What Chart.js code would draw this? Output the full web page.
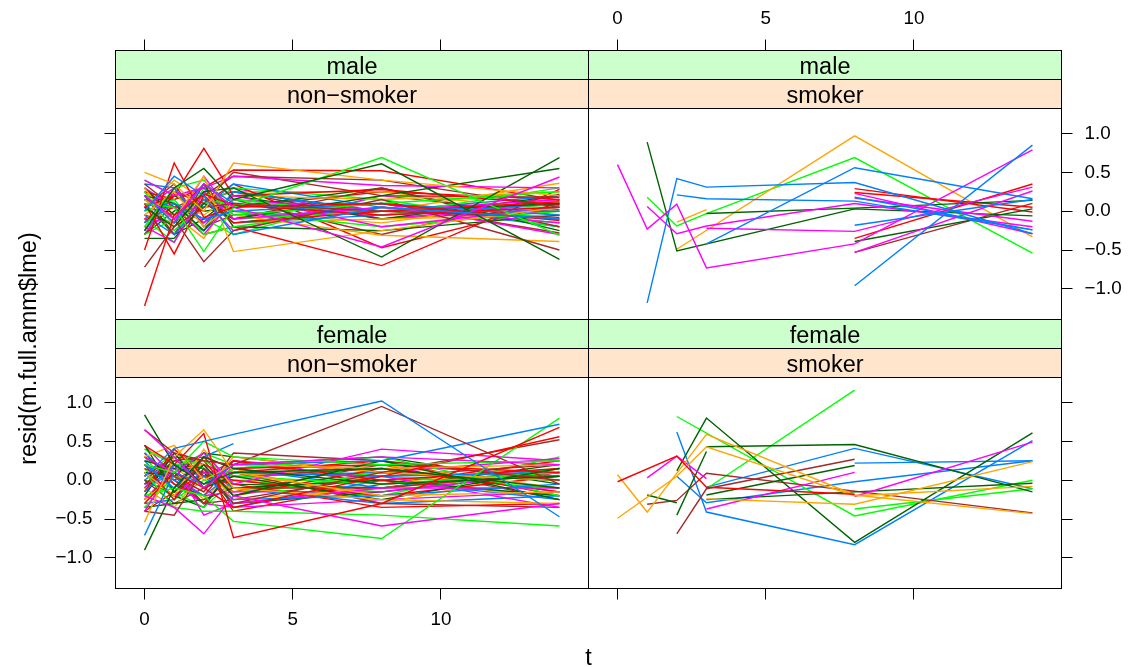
<!DOCTYPE html>
<html>
<head>
<meta charset="utf-8">
<script src="https://cdn.jsdelivr.net/npm/chart.js@4/dist/chart.umd.min.js"></script>
<style>
  html, body { margin: 0; padding: 0; background: #fff; }
  #wrap { width: 1130px; height: 667px; }
</style>
</head>
<body>
<div id="wrap"><canvas id="chart" width="1130" height="667"></canvas></div>
<script>
// measurement times and axis ticks
const times = [0, 1, 2, 3, 8, 14];
const xTicks = [0, 5, 10];
const yTicks = [-1, -0.5, 0, 0.5, 1];
const sexLevels = ['male', 'female'];
const smokeLevels = ['non\u2212smoker', 'smoker'];

// rows: [subject, t0, t1, t2, t3, t8, t14]  (null = not observed)
const maleNonSmoker = [
  [1, 0.00, 0.45, 0.20, -0.30, 0.05, -0.10],
  [2, 0.20, -0.10, 0.35, 0.05, -0.46, 0.44],
  [3, -0.25, 0.30, 0.55, 0.15, 0.61, -0.62],
  [4, -1.22, -0.05, 0.22, 0.08, -0.05, 0.05],
  [5, 0.50, 0.35, 0.00, 0.62, 0.40, 0.20],
  [6, 0.10, 0.05, -0.52, 0.05, 0.69, -0.31],
  [7, -0.72, -0.20, 0.05, 0.10, 0.00, -0.08],
  [8, 0.20, -0.15, 0.35, 0.10, -0.05, 0.05],
  [9, 0.40, 0.20, 0.30, 0.45, 0.33, 0.30],
  [10, 0.05, -0.20, 0.25, 0.30, -0.59, 0.69],
  [11, -0.50, 0.62, -0.08, 0.05, 0.10, -0.12],
  [12, 0.15, -0.10, 0.45, -0.52, -0.25, 0.05],
  [13, -0.20, 0.30, 0.40, -0.05, 0.10, 0.25],
  [14, 0.15, -0.10, -0.65, -0.25, 0.15, -0.50],
  [15, -0.15, 0.10, -0.10, 0.00, 0.10, -0.05],
  [16, -0.20, -0.40, 0.25, -0.10, 0.05, -0.15],
  [17, -0.35, -0.35, 0.10, -0.10, 0.20, 0.55],
  [18, 0.10, -0.55, 0.20, -0.15, 0.00, 0.12],
  [19, -0.05, 0.25, -0.20, 0.10, 0.00, 0.36],
  [20, 0.25, -0.25, 0.10, 0.15, -0.05, 0.30],
  [21, 0.35, 0.05, 0.20, 0.45, 0.40, 0.05],
  [22, 0.35, 0.30, -0.20, 0.25, 0.00, 0.00],
  [23, 0.05, 0.30, -0.15, 0.20, -0.20, 0.05],
  [24, 0.20, 0.10, -0.25, 0.25, 0.00, 0.10],
  [25, 0.05, 0.20, 0.81, 0.20, 0.28, 0.08],
  [26, 0.30, -0.20, 0.20, -0.05, -0.31, -0.39],
  [27, 0.00, 0.15, -0.30, -0.20, 0.05, -0.15],
  [28, -0.15, 0.25, 0.10, 0.50, 0.20, 0.18],
  [29, -0.05, -0.30, 0.15, -0.15, -0.05, 0.10],
  [30, -0.10, -0.15, 0.45, -0.05, 0.10, -0.30],
  [31, 0.30, -0.05, 0.35, -0.20, -0.25, -0.05],
  [32, 0.25, 0.15, 0.30, 0.53, 0.52, 0.14],
  [33, -0.20, 0.10, -0.05, 0.20, 0.15, 0.25],
  [34, -0.30, -0.10, 0.25, 0.00, -0.20, 0.00],
  [35, 0.20, -0.30, 0.35, -0.10, 0.30, -0.20],
  [36, 0.15, 0.05, 0.05, 0.35, 0.05, -0.15],
  [37, 0.30, 0.05, -0.30, 0.15, 0.00, 0.15],
  [38, -0.15, 0.20, 0.00, 0.05, 0.30, -0.25],
  [39, -0.10, 0.05, -0.30, -0.20, -0.70, 0.28],
  [40, 0.05, 0.40, 0.15, -0.15, -0.10, -0.05],
  [41, 0.40, 0.20, 0.05, 0.30, 0.15, -0.20],
  [42, -0.30, 0.10, -0.15, 0.15, -0.30, 0.22],
  [43, -0.25, 0.20, 0.30, -0.05, 0.00, 0.20],
  [44, -0.30, 0.25, 0.15, -0.25, 0.20, -0.05],
  [45, 0.10, -0.30, -0.10, 0.20, -0.10, 0.20],
  [46, 0.30, -0.10, 0.10, 0.35, -0.47, 0.10],
  [47, 0.25, -0.05, -0.35, 0.25, 0.25, 0.00],
  [48, -0.10, -0.40, 0.30, -0.10, 0.00, 0.08],
  [49, 0.05, 0.35, -0.20, -0.05, 0.10, -0.28],
  [50, 0.05, -0.05, -0.25, 0.10, 0.10, -0.20],
  [51, 0.10, -0.30, 0.05, 0.30, -0.10, 0.10],
  [52, -0.30, 0.00, 0.20, -0.15, 0.05, -0.10],
  [53, -0.25, 0.30, -0.20, 0.05, 0.25, 0.15],
  [54, -0.10, 0.15, 0.30, 0.00, -0.15, 0.15],
  [55, 0.15, 0.10, -0.10, -0.30, 0.20, 0.12],
  [56, -0.05, -0.15, 0.15, 0.25, -0.10, 0.02]
];

const maleSmoker = [
  [1, null, -1.18, 0.42, 0.31, 0.37, -0.29],
  [8, null, null, 0.21, 0.16, 0.13, -0.24],
  [15, null, null, null, -0.42, 0.56, 0.16],
  [22, null, null, null, null, -0.96, 0.85],
  [29, null, null, null, null, 0.18, -0.24],
  [36, null, null, null, null, -0.18, 0.15],
  [2, 0.60, -0.23, 0.09, -0.73, -0.42, 0.79],
  [9, null, 0.06, -0.29, -0.19, 0.10, -0.20],
  [16, null, null, null, -0.22, -0.26, 0.31],
  [23, null, null, null, null, 0.23, -0.29],
  [30, null, null, null, null, 0.17, -0.13],
  [37, null, null, null, null, -0.53, 0.26],
  [3, null, 0.89, -0.51, null, 0.03, -0.06],
  [10, null, null, null, -0.03, 0.04, 0.14],
  [17, null, null, null, null, -0.39, 0.03],
  [4, null, null, null, null, 0.29, -0.01],
  [11, null, null, null, null, -0.35, 0.35],
  [18, null, null, null, null, 0.24, 0.05],
  [5, null, null, -0.14, 0.02, null, null],
  [12, null, null, -0.49, null, 0.97, -0.33],
  [6, null, 0.18, -0.19, -0.03, 0.69, -0.54],
  [7, null, null, null, null, -0.53, 0.10]
];

const femaleNonSmoker = [
  [1, 0.05, 0.41, 0.50, 0.59, 1.02, -0.47],
  [2, 0.65, 0.30, -0.10, 0.20, 0.30, 0.20],
  [3, 0.84, 0.20, -0.05, 0.10, 0.15, -0.10],
  [4, 0.45, 0.20, 0.60, -0.74, -0.30, 0.68],
  [5, -0.54, 0.30, 0.65, 0.10, -0.20, -0.15],
  [6, 0.20, 0.10, 0.50, 0.30, 0.20, 0.25],
  [7, 0.65, 0.35, 0.25, 0.20, 0.95, -0.05],
  [8, -0.71, 0.10, -0.05, 0.20, 0.25, 0.72],
  [9, -0.20, -0.35, -0.69, -0.20, -0.59, -0.30],
  [10, -0.90, -0.10, 0.30, 0.15, -0.05, 0.05],
  [11, -0.30, 0.10, -0.10, -0.35, 0.05, 0.56],
  [12, 0.30, 0.45, 0.00, 0.20, 0.15, 0.20],
  [13, -0.20, -0.10, -0.20, -0.53, -0.75, 0.80],
  [14, -0.40, -0.45, 0.15, -0.30, 0.10, 0.52],
  [15, 0.20, -0.10, 0.30, 0.47, null, null],
  [16, 0.30, 0.10, 0.35, -0.05, 0.40, 0.25],
  [17, 0.45, -0.15, 0.20, -0.20, 0.25, -0.25],
  [18, 0.20, -0.25, 0.30, 0.15, 0.20, 0.10],
  [19, 0.10, -0.20, 0.40, -0.10, -0.25, -0.30],
  [20, 0.10, -0.35, -0.40, -0.40, -0.45, -0.59],
  [21, 0.30, 0.05, -0.15, 0.35, 0.25, 0.00],
  [22, -0.15, 0.20, 0.05, -0.25, -0.20, -0.05],
  [23, -0.40, 0.20, -0.45, -0.30, -0.10, -0.10],
  [24, -0.20, 0.35, -0.10, 0.05, -0.25, 0.15],
  [25, -0.15, 0.40, 0.05, -0.05, -0.35, -0.30],
  [26, -0.25, 0.05, -0.15, 0.30, 0.10, 0.00],
  [27, 0.40, 0.20, 0.25, 0.05, -0.05, 0.10],
  [28, -0.05, 0.25, 0.30, -0.10, -0.10, 0.10],
  [29, 0.35, 0.00, -0.20, 0.10, 0.05, 0.10],
  [30, 0.10, -0.20, 0.10, 0.10, 0.05, -0.35],
  [31, 0.10, 0.05, 0.35, 0.30, 0.10, 0.00],
  [32, 0.35, -0.05, -0.20, 0.25, 0.00, 0.15],
  [33, 0.40, 0.25, 0.20, -0.25, -0.10, 0.10],
  [34, -0.35, 0.05, -0.05, 0.15, 0.30, -0.20],
  [35, 0.10, -0.20, 0.05, 0.10, -0.30, -0.35],
  [36, -0.30, -0.25, 0.15, -0.10, -0.30, -0.20],
  [37, 0.45, 0.05, -0.20, -0.15, -0.15, 0.10],
  [38, -0.35, -0.30, -0.25, -0.10, 0.00, -0.20],
  [39, 0.05, 0.30, 0.25, -0.20, 0.15, -0.15],
  [40, -0.10, -0.35, 0.10, 0.05, 0.20, -0.10],
  [41, 0.05, 0.35, 0.15, -0.20, 0.10, 0.00],
  [42, -0.25, 0.10, -0.30, -0.25, 0.05, 0.20],
  [43, 0.00, 0.30, -0.10, 0.05, 0.10, 0.00],
  [44, -0.10, 0.35, 0.20, 0.05, 0.20, 0.05],
  [45, 0.25, 0.15, 0.10, -0.30, -0.15, 0.10],
  [46, -0.40, -0.15, 0.10, 0.00, -0.20, 0.05],
  [47, 0.20, 0.10, -0.25, 0.15, -0.30, 0.15],
  [48, 0.30, -0.15, -0.35, 0.00, -0.15, 0.15],
  [49, 0.35, 0.00, 0.20, 0.05, 0.15, -0.15],
  [50, 0.25, -0.15, 0.20, -0.35, 0.00, -0.25],
  [51, 0.20, -0.05, -0.30, -0.35, -0.25, -0.15],
  [52, 0.00, -0.20, -0.35, 0.20, 0.30, -0.05],
  [53, 0.15, 0.00, -0.30, 0.10, 0.25, -0.20],
  [54, 0.00, -0.10, 0.30, -0.15, 0.05, -0.25],
  [55, -0.10, 0.15, 0.35, 0.20, 0.05, -0.10],
  [56, 0.00, -0.30, -0.10, 0.25, -0.05, 0.05],
  [57, -0.05, 0.05, -0.30, 0.15, -0.10, 0.15],
  [58, -0.25, 0.15, 0.05, 0.25, 0.10, 0.28],
  [59, -0.10, 0.25, 0.15, -0.05, -0.10, 0.20],
  [60, -0.05, 0.20, 0.15, -0.40, -0.05, 0.25],
  [61, -0.30, 0.15, -0.05, 0.00, 0.00, 0.05],
  [62, 0.15, -0.25, 0.00, -0.10, -0.20, 0.30],
  [63, -0.15, 0.20, 0.10, -0.15, 0.20, -0.25]
];

const femaleSmoker = [
  [4, -0.02, null, 0.31, -0.09, -0.18, null],
  [5, 0.07, -0.41, null, 0.59, -0.19, -0.43],
  [12, -0.49, null, 0.05, 0.43, -0.20, -0.08],
  [19, null, null, null, -0.24, -0.31, 0.24],
  [2, null, 0.03, 0.31, 0.02, null, null],
  [9, null, null, null, -0.37, 0.10, null],
  [16, null, null, null, null, -0.21, 0.49],
  [3, null, -0.19, -0.29, null, null, null],
  [10, null, null, 0.12, 0.80, -0.80, 0.61],
  [17, null, null, -0.45, 0.37, null, null],
  [24, null, null, null, 0.43, 0.46, -0.15],
  [31, null, null, null, -0.19, 0.19, null],
  [38, null, null, null, -0.25, -0.15, -0.04],
  [7, null, -0.31, -0.26, 0.09, -0.14, -0.42],
  [14, null, null, -0.69, -0.11, 0.27, null],
  [6, null, null, 0.82, null, -0.46, 0.00],
  [13, null, null, null, -0.11, 1.16, null],
  [20, null, null, null, null, -0.37, -0.11],
  [1, null, null, 0.62, -0.41, -0.83, 0.51],
  [8, null, null, 0.05, -0.29, -0.02, 0.25],
  [15, null, null, null, -0.09, 0.41, -0.11],
  [22, null, null, null, null, 0.22, 0.25]
];

// lattice superpose.line colours
const palette = ['#0080ff', '#ff00ff', '#006400', '#ff0000', '#ffa500', '#00ff00', '#a52a2a'];

// layout (pixels)
const colX = [115.5, 588.5, 1061.5];
const stripH = 29;
const stripTop = [50.5, 319.5];
const panelTop = [108.5, 377.5];
const panelH = 211;
const xLim = [-0.98, 14.98];
const yLim = [-1.394, 1.322];
const FONT = '"Liberation Sans", Arial, Helvetica, sans-serif';

const areaTop = stripTop[0];
const areaBot = panelTop[1] + panelH;
const ppx = (colX[1] - colX[0]) / (xLim[1] - xLim[0]);
const ppy = panelH / (yLim[1] - yLim[0]);
const colOff = (colX[1] - colX[0]) / ppx;
const rowOff = (panelTop[1] - panelTop[0]) / ppy;
const spanX = (colX[2] - colX[0]) / ppx;
const spanY = (areaBot - areaTop) / ppy;

function tickList(vals, shift) {
  const own = vals.map(v => ({ value: v, orig: v, lab: true }));
  const other = vals.map(v => ({ value: v + shift, orig: v, lab: false }));
  return own.concat(other).sort((a, b) => a.value - b.value);
}

const fmtX = v => String(v);
const fmtY = v => v.toFixed(1).replace('-', '\u2212');

function axis(position, min, max, list, fmt, size, pad) {
  return {
    type: 'linear',
    position: position,
    min: min,
    max: max,
    afterBuildTicks: s => { s.ticks = list.map(t => Object.assign({}, t)); },
    afterFit: s => { if (s.isHorizontal()) s.height = size; else s.width = size; },
    border: { display: false },
    grid: { drawOnChartArea: false, drawTicks: true, tickLength: 11, color: '#000', lineWidth: 1 },
    ticks: {
      autoSkip: false,
      maxRotation: 0,
      padding: pad,
      color: '#000',
      font: { family: FONT, size: 18.8 },
      callback: (value, i, ticks) => ticks[i].lab ? fmt(ticks[i].orig) : ''
    }
  };
}

const yrMax = yLim[1] + (panelTop[0] - areaTop) / ppy;
const ylMax = yLim[1] + (panelTop[1] - areaTop) / ppy;

const scales = {
  xb: axis('bottom', xLim[0], xLim[0] + spanX, tickList(xTicks, colOff), fmtX, 667 - areaBot, 9),
  xt: axis('top', xLim[1] - spanX, xLim[1], tickList(xTicks, -colOff), fmtX, areaTop, 9),
  yl: axis('left', ylMax - spanY, ylMax, tickList(yTicks, rowOff), fmtY, colX[0], 12),
  yr: axis('right', yrMax - spanY, yrMax, tickList(yTicks, -rowOff), fmtY, 1130 - colX[2], 12)
};

const panels = [
  { rows: maleNonSmoker, x: 'xb', y: 'yr' },
  { rows: maleSmoker, x: 'xt', y: 'yr' },
  { rows: femaleNonSmoker, x: 'xb', y: 'yl' },
  { rows: femaleSmoker, x: 'xt', y: 'yl' }
];

const datasets = [];
panels.forEach(p => {
  p.rows.forEach(r => {
    const pts = [];
    times.forEach((t, i) => { if (r[i + 1] !== null) pts.push({ x: t, y: r[i + 1] }); });
    datasets.push({
      data: pts,
      xAxisID: p.x,
      yAxisID: p.y,
      borderColor: palette[(r[0] - 1) % 7],
      borderWidth: 1.4,
      pointRadius: 0,
      fill: false,
      tension: 0
    });
  });
});

// strips, panel borders and axis titles
const latticeFrame = {
  id: 'latticeFrame',
  afterDraw(chart) {
    const ctx = chart.ctx;
    ctx.save();
    ctx.lineWidth = 1;
    ctx.strokeStyle = '#000';
    ctx.fillStyle = '#000';
    const strip = (x, y, w, fill, label) => {
      ctx.fillStyle = fill;
      ctx.fillRect(x, y, w, stripH);
      ctx.strokeRect(x, y, w, stripH);
      ctx.fillStyle = '#000';
      ctx.font = '23.5px ' + FONT;
      ctx.textAlign = 'center';
      ctx.textBaseline = 'alphabetic';
      ctx.fillText(label, x + w / 2, y + stripH / 2 + 8.5);
    };
    for (let r = 0; r < 2; r++) {
      for (let c = 0; c < 2; c++) {
        const x0 = colX[c], w = colX[c + 1] - colX[c];
        strip(x0, stripTop[r], w, '#ccffcc', sexLevels[r]);
        strip(x0, stripTop[r] + stripH, w, '#ffe5cc', smokeLevels[c]);
        ctx.strokeRect(x0, panelTop[r], w, panelH);
      }
    }
    ctx.fillStyle = '#000';
    ctx.font = '23.5px ' + FONT;
    ctx.textAlign = 'center';
    ctx.textBaseline = 'alphabetic';
    ctx.fillText('t', (colX[0] + colX[2]) / 2, 665);
    ctx.translate(36, (panelTop[0] + areaBot) / 2);
    ctx.rotate(-Math.PI / 2);
    ctx.fillText('resid(m.full.amm$lme)', 0, 0);
    ctx.restore();
  }
};

new Chart(document.getElementById('chart'), {
  type: 'line',
  data: { datasets: datasets },
  options: {
    responsive: false,
    animation: false,
    events: [],
    layout: { padding: 0 },
    plugins: { legend: { display: false }, tooltip: { enabled: false } },
    scales: scales
  },
  plugins: [latticeFrame]
});
</script>
</body>
</html>
